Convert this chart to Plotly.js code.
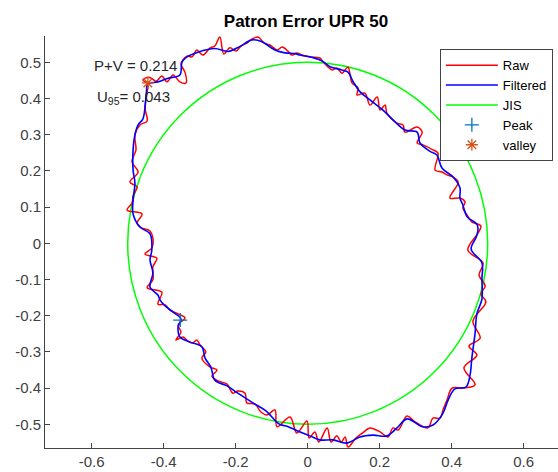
<!DOCTYPE html>
<html><head><meta charset="utf-8">
<script src="https://cdn.plot.ly/plotly-3.0.1.min.js"></script>
<style>html,body{margin:0;padding:0;background:#fff;}#chart{width:558px;height:472px;}</style>
</head><body><div id="chart"></div>
<script>
// Filtered profile (x, y) read around the part, clockwise from the valley
const filteredPts = [
[-0.444,0.440],[-0.416,0.446],[-0.388,0.456],[-0.355,0.465],[-0.349,0.501],[-0.335,0.515],[-0.305,0.528],[-0.258,0.538],
[-0.221,0.530],[-0.188,0.544],[-0.155,0.562],[-0.127,0.557],[-0.091,0.534],[-0.063,0.526],[-0.035,0.524],[-0.021,0.520],
[0.015,0.513],[0.043,0.502],[0.062,0.488],[0.095,0.479],[0.112,0.473],[0.126,0.447],[0.145,0.419],[0.173,0.396],
[0.209,0.368],[0.237,0.341],[0.270,0.313],[0.304,0.307],[0.312,0.277],[0.340,0.254],[0.359,0.244],[0.373,0.208],
[0.404,0.183],[0.423,0.153],[0.423,0.125],[0.431,0.106],[0.443,0.073],[0.470,0.053],[0.473,0.037],[0.468,0.017],
[0.454,-0.016],[0.484,-0.054],[0.484,-0.099],[0.484,-0.154],[0.470,-0.195],[0.465,-0.248],[0.456,-0.317],[0.451,-0.364],
[0.440,-0.397],[0.409,-0.402],[0.390,-0.433],[0.376,-0.469],[0.348,-0.502],[0.320,-0.507],[0.276,-0.485],[0.248,-0.510],
[0.220,-0.532],[0.181,-0.530],[0.145,-0.535],[0.109,-0.552],[0.070,-0.543],[0.034,-0.543],[0.006,-0.532],[-0.021,-0.521],
[-0.060,-0.505],[-0.080,-0.499],[-0.116,-0.463],[-0.152,-0.441],[-0.194,-0.414],[-0.224,-0.394],[-0.258,-0.378],[-0.269,-0.342],
[-0.285,-0.317],[-0.294,-0.286],[-0.327,-0.273],[-0.355,-0.259],[-0.360,-0.231],[-0.352,-0.209],[-0.374,-0.190],[-0.396,-0.173],
[-0.410,-0.157],[-0.416,-0.143],[-0.438,-0.121],[-0.430,-0.082],[-0.438,-0.046],[-0.433,-0.019],[-0.438,0.026],[-0.466,0.045],
[-0.485,0.081],[-0.485,0.120],[-0.480,0.167],[-0.485,0.202],[-0.485,0.258],[-0.480,0.299],[-0.471,0.327],[-0.458,0.343],
[-0.452,0.374],[-0.448,0.418],[-0.444,0.440]
];

// Raw profile (x, y) read around the part, including the undulation peaks and troughs
const rawPts = [
[-0.458,0.451],[-0.441,0.459],[-0.421,0.448],[-0.405,0.462],[-0.391,0.446],[-0.374,0.465],[-0.355,0.446],[-0.338,0.443],
[-0.341,0.473],[-0.352,0.495],[-0.335,0.517],[-0.321,0.515],[-0.308,0.534],[-0.291,0.520],[-0.271,0.540],[-0.258,0.545],
[-0.244,0.570],[-0.233,0.523],[-0.216,0.540],[-0.199,0.531],[-0.185,0.545],[-0.169,0.553],[-0.155,0.564],[-0.138,0.570],
[-0.121,0.553],[-0.105,0.548],[-0.085,0.534],[-0.071,0.542],[-0.055,0.531],[-0.044,0.520],
[-0.030,0.526],[-0.016,0.520],[0.006,0.515],[0.034,0.512],[0.043,0.501],[0.068,0.479],[0.081,0.484],[0.095,0.470],
[0.104,0.479],[0.112,0.487],[0.118,0.465],[0.123,0.443],[0.140,0.429],[0.137,0.410],[0.159,0.415],[0.173,0.382],
[0.193,0.404],[0.201,0.368],[0.215,0.382],[0.220,0.360],[0.248,0.332],[0.265,0.327],[0.270,0.307],[0.304,0.321],
[0.318,0.307],[0.304,0.277],[0.320,0.272],[0.348,0.258],[0.362,0.249],[0.354,0.202],[0.373,0.197],[0.387,0.189],
[0.404,0.183],[0.418,0.169],[0.395,0.125],[0.423,0.125],[0.437,0.114],[0.431,0.098],[0.443,0.078],[0.456,0.059],
[0.481,0.048],[0.473,0.028],[0.445,-0.019],[0.487,-0.054],[0.476,-0.088],[0.493,-0.118],[0.481,-0.140],[0.495,-0.162],
[0.459,-0.215],[0.479,-0.262],[0.448,-0.284],[0.470,-0.309],[0.434,-0.344],[0.465,-0.391],
[0.431,-0.400],[0.401,-0.400],[0.387,-0.433],[0.376,-0.460],[0.368,-0.483],[0.348,-0.483],[0.334,-0.510],[0.295,-0.491],
[0.276,-0.477],[0.251,-0.516],[0.237,-0.510],[0.223,-0.535],[0.201,-0.521],[0.173,-0.510],[0.156,-0.521],[0.134,-0.538],
[0.112,-0.563],[0.104,-0.535],[0.093,-0.549],[0.081,-0.532],[0.065,-0.549],[0.054,-0.510],[0.031,-0.549],[0.020,-0.521],
[0.004,-0.538],[-0.002,-0.491],[-0.030,-0.524],[-0.049,-0.480],[-0.085,-0.507],[-0.091,-0.460],[-0.113,-0.474],[-0.130,-0.466],
[-0.146,-0.444],[-0.169,-0.441],[-0.174,-0.414],[-0.194,-0.408],[-0.208,-0.414],[-0.224,-0.389],[-0.249,-0.380],[-0.266,-0.367],
[-0.252,-0.350],[-0.271,-0.342],[-0.294,-0.317],[-0.283,-0.300],[-0.299,-0.281],[-0.308,-0.267],[-0.319,-0.275],[-0.333,-0.270],
[-0.346,-0.259],[-0.366,-0.267],[-0.352,-0.245],[-0.360,-0.226],[-0.341,-0.206],[-0.360,-0.195],[-0.383,-0.184],[-0.396,-0.170],
[-0.416,-0.168],[-0.405,-0.135],[-0.446,-0.123],[-0.430,-0.101],[-0.430,-0.065],[-0.419,-0.041],[-0.452,-0.030],[-0.433,-0.013],
[-0.430,0.015],[-0.438,0.034],[-0.460,0.042],[-0.474,0.056],[-0.460,0.081],[-0.502,0.092],[-0.488,0.111],[-0.485,0.131],
[-0.474,0.156],[-0.494,0.169],[-0.471,0.197],[-0.488,0.225],[-0.477,0.258],[-0.480,0.299],[-0.466,0.327],[-0.446,0.338],
[-0.452,0.374],[-0.446,0.418],[-0.444,0.440],[-0.458,0.451]
];

const jisRadius = 0.5;
const peakX = [-0.354], peakY = [-0.212];
const valleyX = [-0.444], valleyY = [0.443];
const pvText = 'P+V = 0.214';
const u95Text = 'U<sub>95</sub>= 0.043';
const titleText = 'Patron Error UPR 50';
const seriesNames = ['Raw', 'Filtered', 'JIS', 'Peak', 'valley'];
const xTickVals = [-0.6, -0.4, -0.2, 0, 0.2, 0.4, 0.6];
const xTickText = ['-0.6', '-0.4', '-0.2', '0', '0.2', '0.4', '0.6'];
const yTickVals = [-0.5, -0.4, -0.3, -0.2, -0.1, 0, 0.1, 0.2, 0.3, 0.4, 0.5];
const yTickText = ['-0.5', '-0.4', '-0.3', '-0.2', '-0.1', '0', '0.1', '0.2', '0.3', '0.4', '0.5'];

const FONT = 'Liberation Sans, Arial, Helvetica, sans-serif';

const traces = [
  {x: rawPts.map(p => p[0]), y: rawPts.map(p => p[1]), name: seriesNames[0], type: 'scatter', mode: 'lines',
   line: {color: '#ff0000', width: 1.5, shape: 'spline', smoothing: 1}},
  {x: filteredPts.map(p => p[0]), y: filteredPts.map(p => p[1]), name: seriesNames[1], type: 'scatter', mode: 'lines',
   line: {color: '#0000ff', width: 1.6, shape: 'spline', smoothing: 1}},
  {x: [null], y: [null], name: seriesNames[2], type: 'scatter', mode: 'lines',
   line: {color: '#00ff00', width: 1.5}},
  {x: peakX, y: peakY, name: seriesNames[3], type: 'scatter', mode: 'markers',
   marker: {symbol: 'cross-thin-open', size: 10, color: '#0072bd', line: {width: 1.3, color: '#0072bd'}}},
  {x: valleyX, y: valleyY, name: seriesNames[4], type: 'scatter', mode: 'markers',
   marker: {symbol: 'asterisk-open', size: 10, color: '#d95319', line: {width: 1.3, color: '#d95319'}}}
];

const layout = {
  width: 558, height: 472,
  margin: {l: 45, r: 0, t: 36, b: 24},
  paper_bgcolor: '#ffffff', plot_bgcolor: '#ffffff',
  font: {family: FONT, color: '#333333'},
  showlegend: true,
  title: {text: '<b>' + titleText + '</b>', font: {family: FONT, size: 17, color: '#000000'},
          xref: 'container', x: 306 / 558, xanchor: 'center', yref: 'container', y: 1 - 21 / 472, yanchor: 'middle'},
  xaxis: {range: [-0.7297, 0.6953], tickmode: 'array', tickvals: xTickVals, ticktext: xTickText,
          ticks: 'inside', ticklen: 5, tickwidth: 1, tickcolor: '#444444',
          showline: true, linecolor: '#444444', linewidth: 1, showgrid: false, zeroline: false,
          tickfont: {family: FONT, size: 15, color: '#404040'}, fixedrange: true},
  yaxis: {range: [-0.5655, 0.5727], tickmode: 'array', tickvals: yTickVals, ticktext: yTickText,
          ticks: 'inside', ticklen: 5, tickwidth: 1, tickcolor: '#444444',
          showline: true, linecolor: '#444444', linewidth: 1, showgrid: false, zeroline: false,
          tickfont: {family: FONT, size: 15, color: '#404040'}, fixedrange: true},
  legend: {x: 0.99, y: 0.968, xanchor: 'right', yanchor: 'top', bgcolor: '#ffffff', itemwidth: 52,
           bordercolor: '#444444', borderwidth: 1, font: {family: FONT, size: 13, color: '#000000'}},
  shapes: [{type: 'circle', xref: 'x', yref: 'y', x0: -jisRadius, x1: jisRadius, y0: -jisRadius, y1: jisRadius,
            line: {color: '#00ff00', width: 1.5}, layer: 'below'}],
  annotations: [
    {text: pvText, x: -0.599, y: 0.4925, xref: 'x', yref: 'y', xanchor: 'left', yanchor: 'middle', showarrow: false,
     font: {family: FONT, size: 15, color: '#262626'}},
    {text: u95Text, x: -0.591, y: 0.404, xref: 'x', yref: 'y', xanchor: 'left', yanchor: 'middle', showarrow: false,
     font: {family: FONT, size: 15, color: '#262626'}}
  ]
};

Plotly.newPlot('chart', traces, layout, {displayModeBar: false, staticPlot: true});
</script>
</body></html>
